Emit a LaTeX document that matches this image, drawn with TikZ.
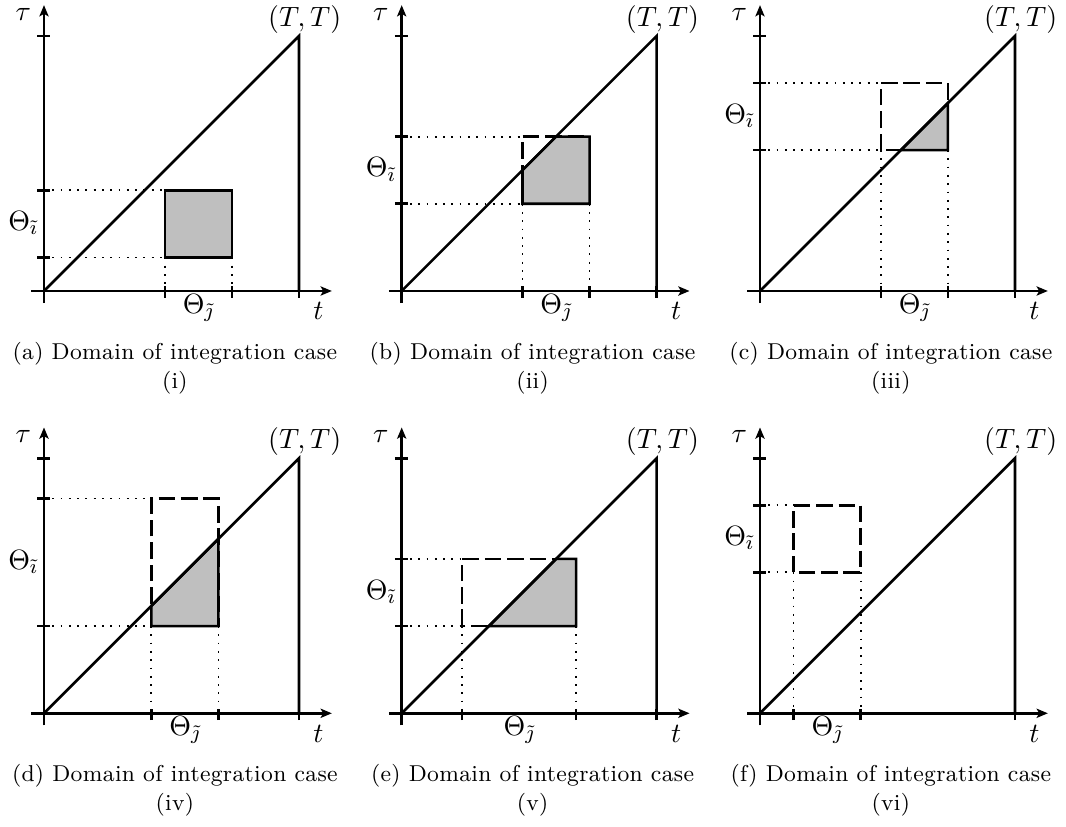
\documentclass[tikz,border=0pt]{standalone}
\usepackage{fontspec}
\usetikzlibrary{arrows.meta}
\newfontfamily\capfont{lmroman9-regular.otf}[LetterSpace=1.5]
\tikzset{
  axis/.style={line width=1pt},
  axisarrow/.style={line width=1pt, -{Stealth[length=4.4pt,width=3.6pt,inset=1pt]}},
  solidline/.style={line width=1pt, line join=miter},
  dotline/.style={line width=0.7pt, dash pattern=on 0.7pt off 2.55pt},
  dashline/.style={line width=1pt, dash pattern=on 6.5pt off 2.3pt},
  region/.style={fill=black!25, draw=black, line width=1pt, line join=miter},
  lab/.style={inner sep=0pt, font=\fontsize{10.8}{13}\selectfont},
  caplab/.style={inner sep=0pt, font=\fontsize{9}{11}\capfont},
}
% #1 prefix, #2 origin, #3 t1, #4 t2, #5 tau1, #6 tau2, #7 letter, #8 case, #9 shaded part
\newcommand\DomainPanel[9]{%
  \begin{scope}[shift={#2}, x=26.314pt, y=26.314pt]
    \coordinate (#1O) at (0,0);
    \coordinate (#1Xs) at (-0.19,0);
    \coordinate (#1Xe) at (4.29,0);
    \coordinate (#1Ys) at (0,-0.18);
    \coordinate (#1Ye) at (0,4.26);
    \coordinate (#1TT0) at (3.8,3.8);
    \coordinate (#1T0) at (3.8,0);
    \coordinate (#1A) at (#3,#5);
    \coordinate (#1B) at (#4,#5);
    \coordinate (#1C) at (#4,#6);
    \coordinate (#1D) at (#3,#6);
    \coordinate (#1ya) at (0,#5);
    \coordinate (#1yb) at (0,#6);
    \coordinate (#1xa) at (#3,0);
    \coordinate (#1xb) at (#4,0);
    % dotted guides
    \draw[dotline] (#1ya) -- (#1A);
    \draw[dotline] (#1yb) -- (#1D);
    \draw[dotline] (#1A) -- (#1xa);
    \draw[dotline] (#1B) -- (#1xb);
    % dashed square
    \draw[dashline] (#1A) rectangle (#1C);
    % shaded part
    #9
    % axes
    \draw[axisarrow] (#1Xs) -- (#1Xe);
    \draw[axisarrow] (#1Ys) -- (#1Ye);
    \draw[solidline] (#1O) -- (#1TT0) -- (#1T0);
    % ticks
    \foreach \v in {#3,#4,3.8} \draw[axis] (\v,-0.1) -- (\v,0.07);
    \foreach \v in {#5,#6,3.8} \draw[axis] (-0.1,\v) -- (0.09,\v);
    % labels
    \node[lab, anchor=base] (#1taulab) at (-0.31,4.03) {$\tau$};
    \node[lab, anchor=base] (#1tlab) at (4.09,-0.43) {$t$};
    \node[lab, anchor=base] (#1TTlab) at (3.885,3.94) {$(T,T)$};
    \node[lab, anchor=base west] (#1thi) at (-0.54,{(#5+#6)/2-0.1}) {$\Theta_{\tilde{\imath}}$};
    \node[lab, anchor=base] (#1thj) at ({(#3+#4)/2},-0.33) {$\Theta_{\tilde{\jmath}}$};
    \node[caplab, anchor=base] (#1cap) at (1.95,-1.016) {(#7) Domain of integration case};
    \node[caplab, anchor=base] (#1case) at (1.95,-1.449) {(#8)};
  \end{scope}}
\begin{document}
\begin{tikzpicture}[x=0.39216pt, y=0.39216pt]
  \useasboundingbox (0,0) rectangle (1066,827);
  \DomainPanel{a}{(44,536)}{1.8}{2.8}{0.5}{1.5}{a}{i}{%
    \filldraw[region] (aA) rectangle (aC);}
  \DomainPanel{b}{(401.7,536)}{1.8}{2.8}{1.3}{2.3}{b}{ii}{%
    \filldraw[region] (1.8,1.3) -- (2.8,1.3) -- (2.8,2.3) -- (2.3,2.3) -- (1.8,1.8) -- cycle;}
  \DomainPanel{c}{(760,536)}{1.8}{2.8}{2.1}{3.1}{c}{iii}{%
    \filldraw[region] (2.1,2.1) -- (2.8,2.1) -- (2.8,2.8) -- cycle;}
  \DomainPanel{d}{(44,113.7)}{1.6}{2.6}{1.3}{3.2}{d}{iv}{%
    \filldraw[region] (1.6,1.3) -- (2.6,1.3) -- (2.6,2.6) -- (1.6,1.6) -- cycle;}
  \DomainPanel{e}{(401.7,113.7)}{0.9}{2.6}{1.3}{2.3}{e}{v}{%
    \filldraw[region] (1.3,1.3) -- (2.6,1.3) -- (2.6,2.3) -- (2.3,2.3) -- cycle;}
  \DomainPanel{f}{(760,113.7)}{0.5}{1.5}{2.1}{3.1}{f}{vi}{}
\end{tikzpicture}
\end{document}
